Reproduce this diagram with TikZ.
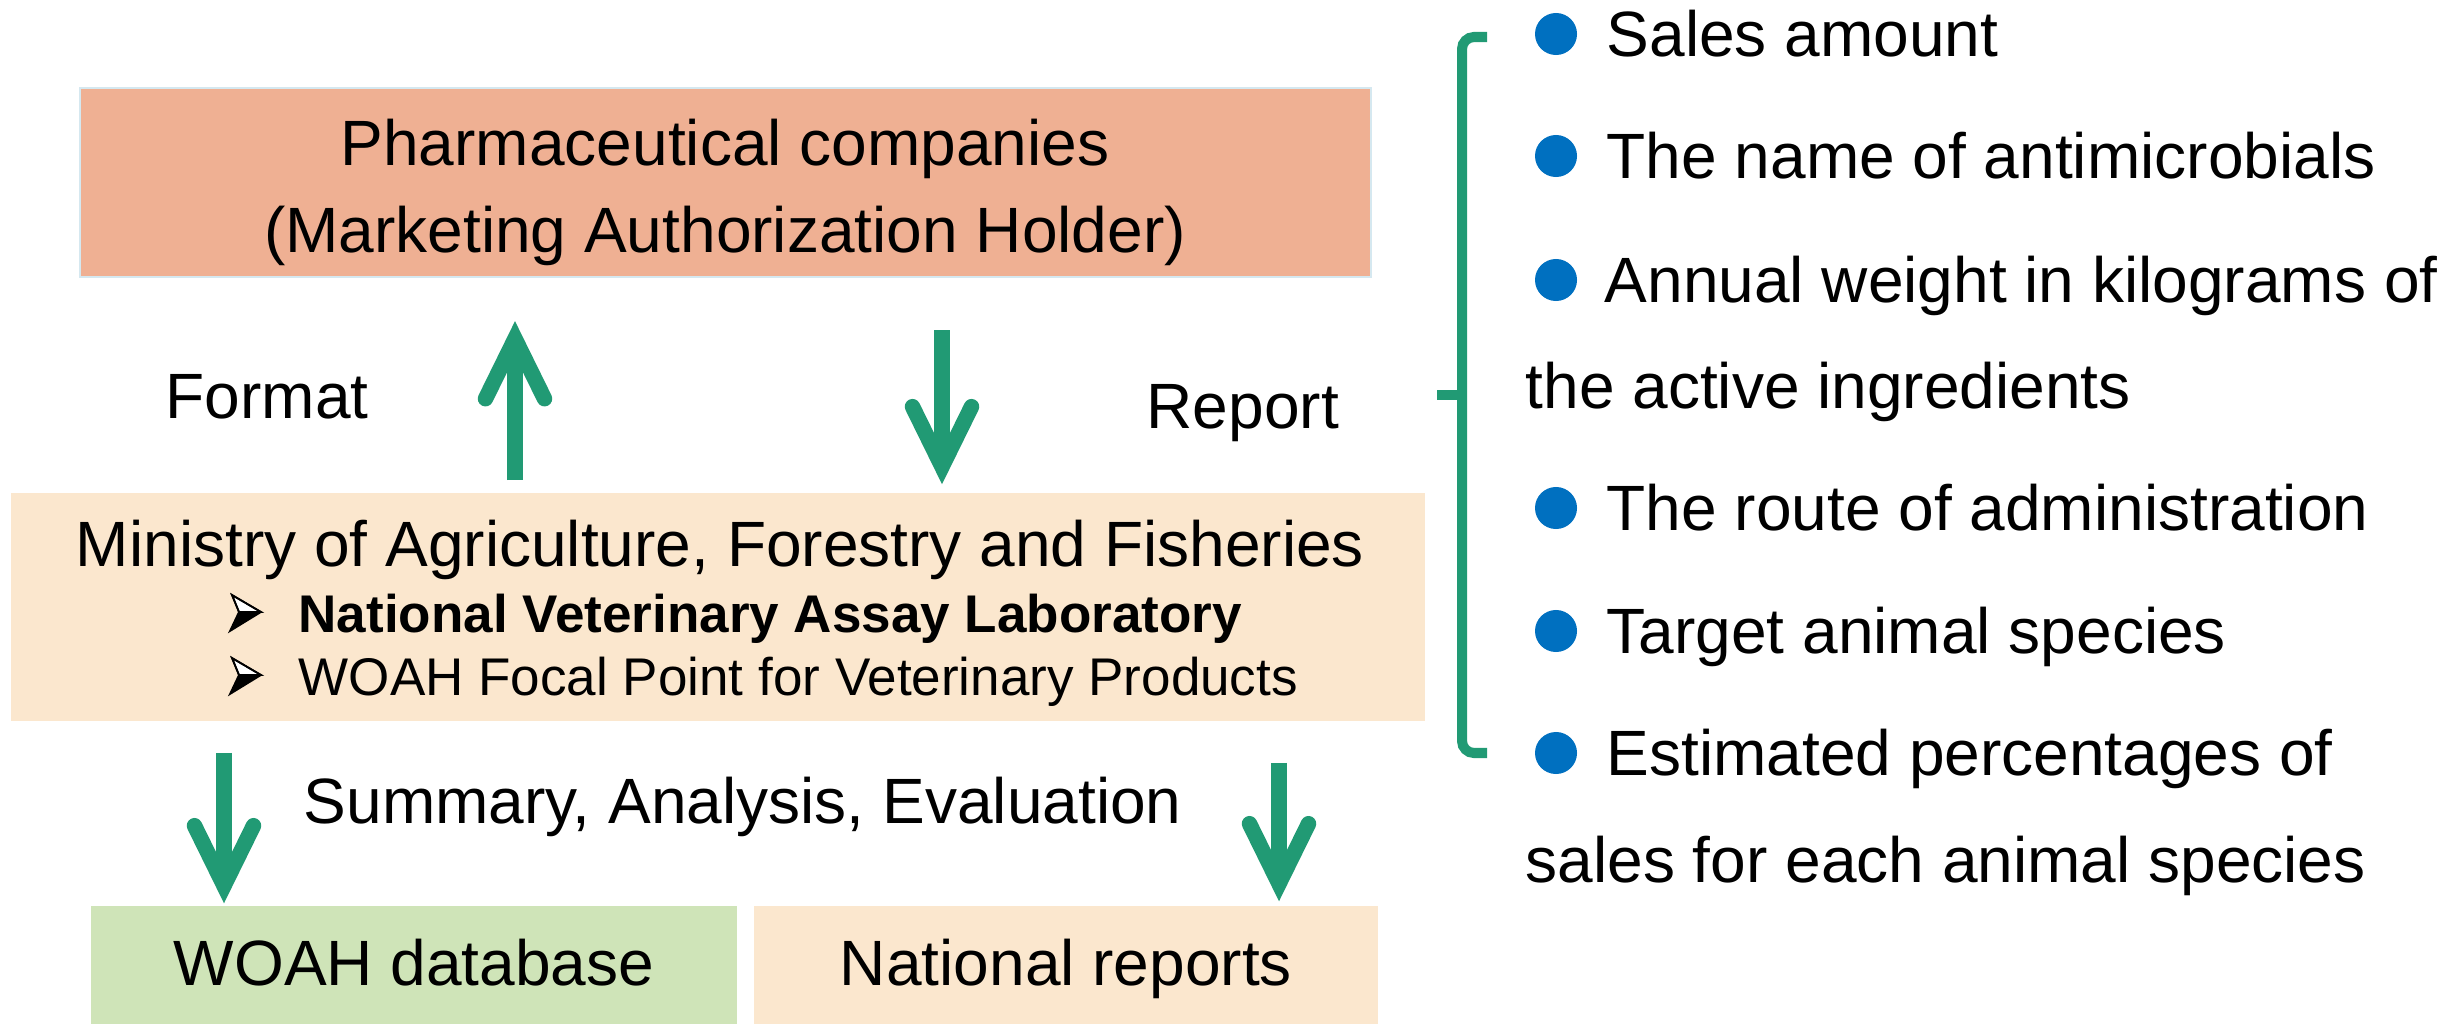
\documentclass[tikz,border=0pt]{standalone}
\usepackage{fontspec}
\setmainfont{Liberation Sans}
\usetikzlibrary{arrows.meta}
\definecolor{salmonfill}{HTML}{EFB093}
\definecolor{peachfill}{HTML}{FBE7CE}
\definecolor{greenfill}{HTML}{CFE4B8}
\definecolor{arrowgreen}{HTML}{219A74}
\definecolor{dotblue}{HTML}{0070C0}
\definecolor{edgeblue}{HTML}{D5E8F0}
\begin{document}
\begin{tikzpicture}[x=0.01cm,y=-0.01cm,
  box/.style={rectangle, inner sep=0pt},
  txt/.style={inner sep=0pt, font=\fontsize{18.21}{21}\selectfont},
  subtxt/.style={inner sep=0pt, font=\fontsize{15.08}{18}\selectfont},
  garrow/.style={draw=arrowgreen, line width=4.4pt, -{Straight Barb[length=0.6cm,width=0.59cm,line cap=round,line join=miter]}},
  bracket/.style={draw=arrowgreen, line width=2.85pt, rounded corners=0.12cm},
  dot/.style={circle, fill=dotblue, inner sep=0pt, minimum size=0.42cm},
  arrowbullet/.pic={
    \fill[black] (9,-20) -- (31,-20) -- (0,-1) -- cycle;
    \filldraw[fill=white, draw=black, line width=0.5pt, line join=miter] (2,-37) -- (31,-20) -- (9,-20) -- cycle;
    \draw[black, line width=0.5pt] (2,-37) -- (31,-20) -- (0,-1) -- (9,-20) -- cycle;
  }]
\useasboundingbox (0,0) rectangle (2460,1024);
\fill[white] (0,0) rectangle (2460,1024);

% boxes
\node[box, fill=salmonfill, draw=edgeblue, line width=0.6pt, minimum width=12.91cm, minimum height=1.89cm] (pc) at (725.5,182.5) {};
\node[box, fill=peachfill, minimum width=14.14cm, minimum height=2.28cm] (maff) at (718,607) {};
\node[box, fill=greenfill, minimum width=6.46cm, minimum height=1.34cm] (woah) at (414,973) {};
\node[box, fill=peachfill, minimum width=6.24cm, minimum height=1.34cm] (nat) at (1066,973) {};

% box texts
\node[txt, anchor=base] (pc1) at (725,165) {Pharmaceutical companies};
\node[txt, anchor=base] (pc2) at (725,252) {(Marketing Authorization Holder)};
\node[txt, anchor=base] (maff1) at (720,566) {Ministry of Agriculture, Forestry and Fisheries};
\pic at (230,632) {arrowbullet};
\node[subtxt, anchor=base west] (maff2) at (298,632) {\bfseries National Veterinary Assay Laboratory};
\pic at (230,695) {arrowbullet};
\node[subtxt, anchor=base west] (maff3) at (298,695) {WOAH Focal Point for Veterinary Products};
\node[txt, anchor=base] (woaht) at (414,985) {WOAH database};
\node[txt, anchor=base] (natt) at (1066,985) {National reports};

% labels
\node[txt, anchor=base west] (fmt) at (165,418) {Format};
\node[txt, anchor=base west] (rep) at (1146,428) {Report};
\node[txt, anchor=base west] (sae) at (303,823) {Summary, Analysis, Evaluation};

% arrows
\coordinate (upx) at (515,0);
\coordinate (dnx) at (942,0);
\coordinate (blx) at (224,0);
\coordinate (brx) at (1279,0);
\draw[garrow, shorten <=0.12cm, shorten >=0.43cm] (maff.north -| upx) -- (pc.south -| upx);
\draw[garrow, shorten <=0.52cm, shorten >=0.08cm] (pc.south -| dnx) -- (maff.north -| dnx);
\draw[garrow, shorten <=0.31cm, shorten >=0.02cm] (maff.south -| blx) -- (woah.north -| blx);
\draw[garrow, shorten <=0.41cm, shorten >=0.04cm] (maff.south -| brx) -- (nat.north -| brx);

% bracket
\draw[bracket] (1487,37) -- (1462,37) -- (1462,753) -- (1487,753);
\draw[bracket] (1462,395) -- (1437,395);

% right list
\node[dot] (d1) at (1556,34) {};
\node[txt, anchor=base west] (l1) at (1606,56) {Sales amount};
\node[dot] (d2) at (1556,156) {};
\node[txt, anchor=base west] (l2) at (1606,178) {The name of antimicrobials};
\node[dot] (d3) at (1556,280) {};
\node[txt, anchor=base west] (l3) at (1604,302) {Annual weight in kilograms of};
\node[txt, anchor=base west] (l3b) at (1525,408) {the active ingredients};
\node[dot] (d4) at (1556,508) {};
\node[txt, anchor=base west] (l4) at (1606,530) {The route of administration};
\node[dot] (d5) at (1556,631) {};
\node[txt, anchor=base west] (l5) at (1606,653) {Target animal species};
\node[dot] (d6) at (1556,753) {};
\node[txt, anchor=base west] (l6) at (1606,775) {Estimated percentages of};
\node[txt, anchor=base west] (l6b) at (1525,882) {sales for each animal species};
\end{tikzpicture}
\end{document}
